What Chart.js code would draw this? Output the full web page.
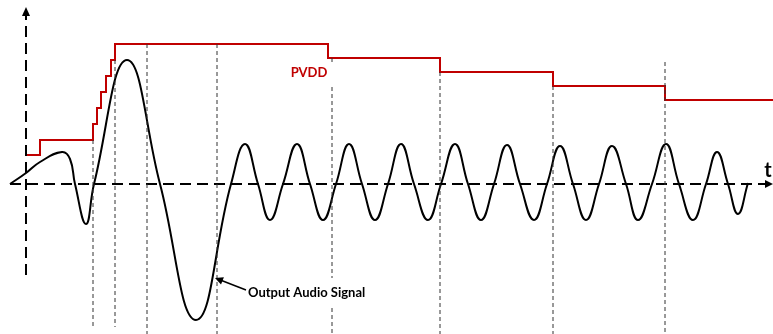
<!DOCTYPE html>
<html>
<head>
<meta charset="utf-8">
<script src="https://cdn.jsdelivr.net/npm/chart.js@4/dist/chart.umd.min.js"></script>
<style>
	body { margin: 0; background: #fff; }
	#graph { display: block; }
</style>
</head>
<body>
<canvas id="graph" width="773" height="334"></canvas>
<script>
// output audio signal (time, amplitude)
const sigX = [10, 26, 40, 62, 70, 75, 86, 94, 127, 160, 196, 231, 245, 258, 270, 283, 297, 310, 323, 336, 349, 362, 375, 388, 401, 414, 428, 441, 455, 468, 481, 494, 507, 520, 534, 547, 560, 573, 586, 599, 612, 626, 638, 652, 666, 679, 693, 706, 717, 728, 738, 748];
const sigY = [0, 11, 22, 32, 25, 0, -40, 0, 124, 0, -136, 0, 40, 0, -36, 0, 40, 0, -36, 0, 40, 0, -36, 0, 40, 0, -36, 0, 40, 0, -36, 0, 39, 0, -36, 0, 38, 0, -36, 0, 38, 0, -36, 0, 40, 0, -36, 0, 32, 0, -30, 1];

// PVDD supply level, steps
const pvddX = [26, 40, 93, 97, 101, 106, 111, 115, 328, 440, 553, 665, 773];
const pvddLevel = [29, 44, 60, 76, 92, 108, 124, 140, 126, 112, 98, 84, 84];

// thin dashed markers
const guideX = [93, 115, 147, 217, 332, 332, 332, 440, 553, 665];
const guideTop = [44, 124, 140, 140, 126, 97, -124, 112, 98, 122];
const guideBottom = [-142, -143, -150, -150, 122, -94, -150, -150, -150, -150];

// axes
const timeAxisX = [10, 766];
const levelAxisY = [-91, 170];
const axisX0 = 26;

// labels
const pvddLabel = { text: "PVDD", x: 309, y: 111 };
const sigLabel = { text: "Output Audio Signal", x: 248, y: -109, tipX: 215, tipY: -94, fromX: 246, fromY: -106 };
const tLabel = { text: "t", x: 768, y: 13 };

function toPoints(xs, ys) {
	return xs.map((x, i) => {
		return { x: x, y: ys[i] };
	});
}

let datasets = [];

guideX.forEach((x, i) => {
	datasets.push({
		data: [{ x: x, y: guideTop[i] }, { x: x, y: guideBottom[i] }],
		borderColor: "#333",
		borderWidth: 1,
		borderDash: [4, 3],
	});
});

datasets.push({
	data: [{ x: timeAxisX[0], y: 0 }, { x: timeAxisX[1], y: 0 }],
	borderColor: "#000",
	borderWidth: 2,
	borderDash: [11, 6],
});
datasets.push({
	data: [{ x: axisX0, y: levelAxisY[0] }, { x: axisX0, y: levelAxisY[1] }],
	borderColor: "#000",
	borderWidth: 2,
	borderDash: [11, 6],
});

datasets.push({
	data: toPoints(pvddX, pvddLevel),
	borderColor: "#c00000",
	borderWidth: 2,
	stepped: true,
});

datasets.push({
	data: toPoints(sigX, sigY),
	borderColor: "#000",
	borderWidth: 2,
	tension: 0.45,
});

function arrowHead(ctx, tx, ty, fx, fy, len, half) {
	let a = Math.atan2(ty - fy, tx - fx);
	ctx.beginPath();
	ctx.moveTo(tx, ty);
	ctx.lineTo(tx - len * Math.cos(a) + half * Math.sin(a), ty - len * Math.sin(a) - half * Math.cos(a));
	ctx.lineTo(tx - len * Math.cos(a) - half * Math.sin(a), ty - len * Math.sin(a) + half * Math.cos(a));
	ctx.closePath();
	ctx.fill();
}

const decorations = {
	id: "decorations",
	afterDatasetsDraw(chart) {
		let ctx = chart.ctx;
		let xs = chart.scales.x;
		let ys = chart.scales.y;
		let px = (v) => xs.getPixelForValue(v);
		let py = (v) => ys.getPixelForValue(v);
		ctx.save();
		ctx.fillStyle = "#000";
		ctx.strokeStyle = "#000";
		// axis arrows
		arrowHead(ctx, px(773), py(0), px(760), py(0), 8, 4);
		arrowHead(ctx, px(axisX0), py(177), px(axisX0), py(165), 9, 4);
		// signal pointer
		ctx.lineWidth = 1.5;
		ctx.beginPath();
		ctx.moveTo(px(sigLabel.fromX), py(sigLabel.fromY));
		ctx.lineTo(px(sigLabel.tipX + 4), py(sigLabel.tipY - 1.5));
		ctx.stroke();
		arrowHead(ctx, px(sigLabel.tipX), py(sigLabel.tipY), px(sigLabel.fromX), py(sigLabel.fromY), 8, 4);
		// texts
		ctx.textBaseline = "middle";
		ctx.font = "bold 13px Lato";
		ctx.textAlign = "left";
		ctx.fillText(sigLabel.text, px(sigLabel.x), py(sigLabel.y));
		ctx.fillStyle = "#c00000";
		ctx.textAlign = "center";
		ctx.fillText(pvddLabel.text, px(pvddLabel.x), py(pvddLabel.y));
		ctx.fillStyle = "#000";
		ctx.font = "bold 20px Lato";
		ctx.fillText(tLabel.text, px(tLabel.x), py(tLabel.y));
		ctx.restore();
	}
};

new Chart(document.getElementById("graph"), {
	type: "scatter",
	data: { datasets: datasets },
	options: {
		responsive: false,
		animation: false,
		showLine: true,
		layout: { padding: 0 },
		elements: { point: { radius: 0 } },
		scales: {
			x: { type: "linear", min: 0, max: 773, display: false },
			y: { type: "linear", min: -150, max: 184, display: false }
		},
		plugins: {
			legend: { display: false },
			tooltip: { enabled: false }
		}
	},
	plugins: [decorations]
});
</script>
</body>
</html>
